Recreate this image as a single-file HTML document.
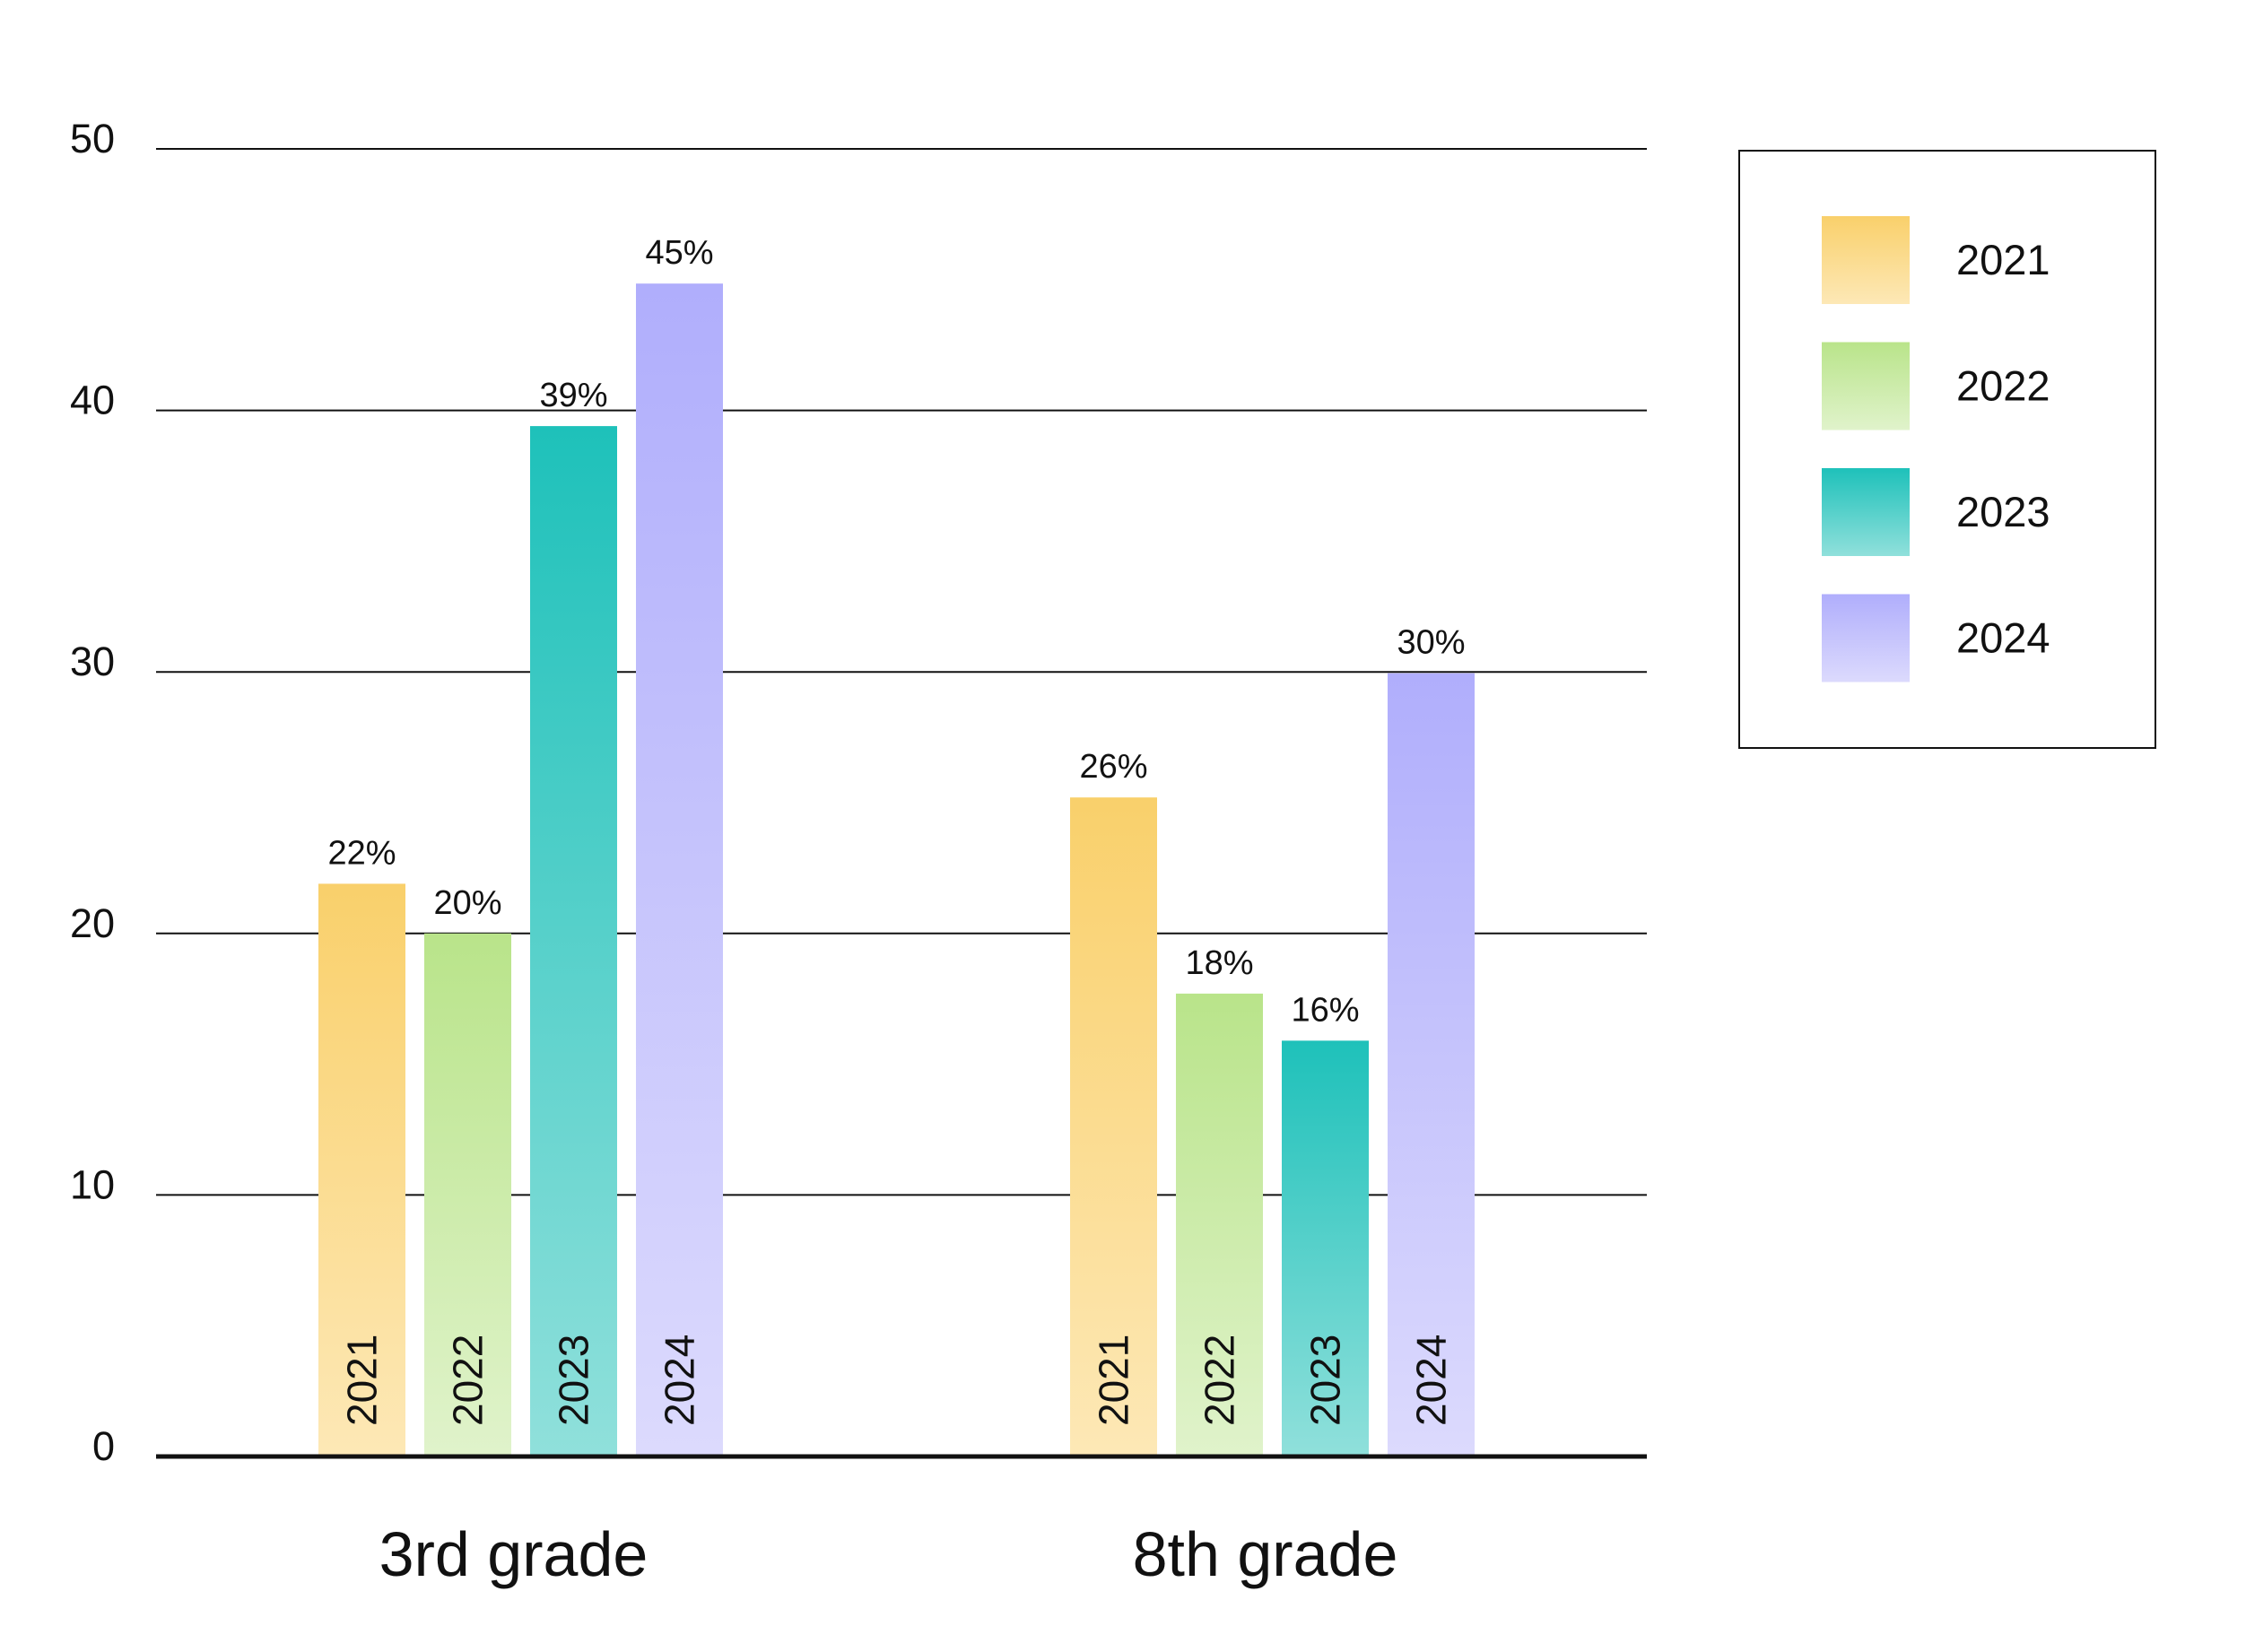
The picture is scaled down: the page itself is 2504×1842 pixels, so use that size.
<!DOCTYPE html>
<html><head><meta charset="utf-8"><style>
html,body{margin:0;padding:0;background:#fff;}
svg{display:block;font-family:"Liberation Sans",sans-serif;}
</style></head><body>
<svg id="chart" width="2504" height="1842" viewBox="0 0 2504 1842" xmlns="http://www.w3.org/2000/svg">
<defs>
<linearGradient id="g0" x1="0" y1="0" x2="0" y2="1"><stop offset="0" stop-color="#f9d06b"/><stop offset="1" stop-color="#fde8b6"/></linearGradient>
<linearGradient id="g1" x1="0" y1="0" x2="0" y2="1"><stop offset="0" stop-color="#b9e48a"/><stop offset="1" stop-color="#e0f3cb"/></linearGradient>
<linearGradient id="g2" x1="0" y1="0" x2="0" y2="1"><stop offset="0" stop-color="#1ec1ba"/><stop offset="1" stop-color="#90e0db"/></linearGradient>
<linearGradient id="g3" x1="0" y1="0" x2="0" y2="1"><stop offset="0" stop-color="#b0aefc"/><stop offset="1" stop-color="#dcdafd"/></linearGradient>
</defs>
<g id="grid"></g><g id="bars"></g><g id="legend"></g>
</svg>
<script>
const groups = ["3rd grade", "8th grade"];
const years = ["2021", "2022", "2023", "2024"];
const thirdGrade = [21.9, 20, 39.4, 44.85];
const eighthGrade = [25.2, 17.7, 15.9, 29.95];
const thirdLabels = ["22%", "20%", "39%", "45%"];
const eighthLabels = ["26%", "18%", "16%", "30%"];
const yTicks = [0, 10, 20, 30, 40, 50];

const NS = "http://www.w3.org/2000/svg";
const plotL = 174, plotR = 1836, y0 = 1624, y50 = 166;
const yScale = v => y0 - (y0 - y50) * v / 50;
const groupStart = [355, 1193], barStep = 118, barW = 97;
const xBar = (g, i) => groupStart[g] + i * barStep;

function mk(tag, attrs, parent, text) {
  const e = document.createElementNS(NS, tag);
  for (const k in attrs) e.setAttribute(k, attrs[k]);
  if (text !== undefined) e.textContent = text;
  parent.appendChild(e);
  return e;
}
const grid = document.getElementById("grid");
const bars = document.getElementById("bars");
const legend = document.getElementById("legend");

yTicks.forEach(t => {
  const y = yScale(t);
  if (t > 0) {
    const l = mk("line", {x1: plotL, x2: plotR, y1: y, y2: y, stroke: "#111", "stroke-width": 2}, grid);
    
    
  }
  const tx = mk("text", {x: 128, y: y + 4, "font-size": 45, "text-anchor": "end", fill: "#111"}, grid, String(t));
  
  
});

[thirdGrade, eighthGrade].forEach((series, g) => {
  const labels = g === 0 ? thirdLabels : eighthLabels;
  series.forEach((v, i) => {
    const x = xBar(g, i), y = yScale(v);
    const r = mk("rect", {x: x, y: y, width: barW, height: y0 - y, fill: "url(#g" + i + ")"}, bars);
    
    
    const vl = mk("text", {x: x + barW / 2, y: y - 22, "font-size": 38, "text-anchor": "middle", fill: "#111"}, bars, labels[i]);
    
    
    const cx = x + barW / 2 + 16, cy = 1590;
    const yl = mk("text", {x: cx, y: cy, "font-size": 46, fill: "#111", transform: "rotate(-90 " + cx + " " + cy + ")"}, bars, years[i]);
    
    
  });
  const gl = mk("text", {x: groupStart[g] + 1.5 * barStep + barW / 2 - 8, y: 1757, "font-size": 70, "text-anchor": "middle", fill: "#111"}, bars, groups[g]);
  
  
});
const base = mk("line", {x1: plotL, x2: plotR, y1: y0, y2: y0, stroke: "#111", "stroke-width": 5}, bars);



const box = mk("rect", {x: 1939, y: 168, width: 464, height: 666, fill: "none", stroke: "#111", "stroke-width": 2}, legend);


years.forEach((yr, i) => {
  const y = 241 + i * 140.5;
  const s = mk("rect", {x: 2031, y: y, width: 98, height: 98, fill: "url(#g" + i + ")"}, legend);
  
  
  const t = mk("text", {x: 2181, y: y + 65, "font-size": 47, fill: "#111"}, legend, yr);
  
  
});
</script>
</body></html>
